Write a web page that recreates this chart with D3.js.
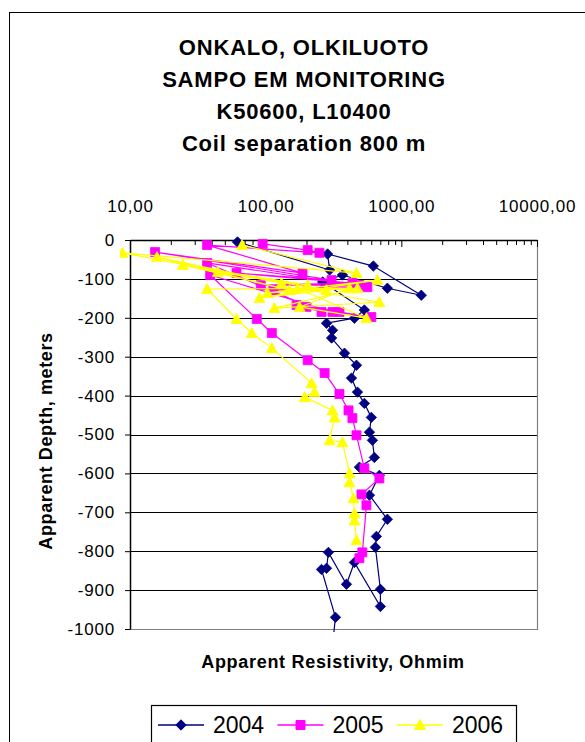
<!DOCTYPE html>
<html>
<head>
<meta charset="utf-8">
<script src="https://cdn.jsdelivr.net/npm/d3@7"></script>
<style>
  body { margin: 0; background: #fff; }
  svg { display: block; font-family: "Liberation Sans", Arial, sans-serif; }
</style>
</head>
<body>
<div id="chart"></div>
<script>
// Chart text
const titleLines = ["ONKALO, OLKILUOTO", "SAMPO EM MONITORING", "K50600, L10400", "Coil separation 800 m"];
const xTitle = "Apparent Resistivity, Ohmim";
const yTitle = "Apparent Depth, meters";

// Axis ticks
const xTickValues = [10, 100, 1000, 10000];
const xTickLabels = ["10,00", "100,00", "1000,00", "10000,00"];
const yTickValues = [0, -100, -200, -300, -400, -500, -600, -700, -800, -900, -1000];

// Series (resistivity, ohm m / apparent depth, m)
const seriesNames = ["2004", "2005", "2006"];

const res2004 = [62, 296, 286, 622, 1403, 789, 368, 263, 534, 451, 281, 311, 306, 381, 467, 429, 475, 534,
    601, 582, 612, 633, 491, 689, 582, 789, 655, 644, 701, 701, 451, 394, 290, 281, 258, 327, 310];
const depth2004 = [-5, -77, -36, -67, -142, -124, -90, -108, -180, -201, -214, -232, -252, -291, -322, -355, -391, -420,
    -456, -494, -515, -559, -584, -605, -656, -718, -762, -790, -898, -942, -829, -885, -803, -844, -847, -970, -1045];

const res2005 = [95, 204, 249, 37, 187, 15.3, 306, 61, 436, 92, 491, 114, 562, 37, 258, 169, 350, 200, 601, 311,
    39, 86, 111, 204, 272, 350, 408, 436, 467, 534, 689, 508, 553, 516, 491];
const depth2005 = [-10, -26, -33, -13, -85, -31, -103, -85, -111, -116, -116, -129, -121, -59, -185, -167, -185, -172, -198, -185,
    -90, -203, -239, -309, -342, -396, -438, -458, -502, -587, -613, -654, -682, -803, -818];

const res2006 = [67, 467, 8.8, 131, 15.8, 150, 24.5, 204, 44.4, 281, 90, 667, 103, 475, 116, 689, 172, 553, 178, 415,
    37, 61, 79, 111, 218, 229, 194, 311, 322, 296, 368, 415, 415, 444, 451, 451, 467];
const depth2006 = [-13, -85, -33, -111, -44, -129, -64, -116, -82, -129, -149, -103, -136, -124, -175, -160, -124, -201, -172, -124,
    -126, -203, -239, -278, -368, -391, -404, -438, -456, -515, -520, -600, -623, -664, -703, -721, -772];

const seriesColors = ["#000080", "#FF00FF", "#FFFF00"];
const seriesMarkers = ["diamond", "square", "triangle"];

const series = [
    { name: seriesNames[0], res: res2004, depth: depth2004 },
    { name: seriesNames[1], res: res2005, depth: depth2005 },
    { name: seriesNames[2], res: res2006, depth: depth2006 }
].map((s, i) => ({
    name: s.name,
    color: seriesColors[i],
    marker: seriesMarkers[i],
    points: s.res.map((r, j) => ({ res: r, depth: s.depth[j] }))
}));

// Layout
const width = 585, height = 742;
const plot = { left: 130, top: 240, right: 537, bottom: 629 };
const font = "'Liberation Sans', Arial, sans-serif";

const svg = d3.select("#chart")
    .append("svg")
    .attr("width", width)
    .attr("height", height);

svg.append("rect")
    .attr("width", width)
    .attr("height", height)
    .attr("fill", "#fff");

// Outer chart frame
svg.append("rect")
    .attr("x", 9.5)
    .attr("y", 12.5)
    .attr("width", 620)
    .attr("height", 800)
    .attr("fill", "none")
    .attr("stroke", "#000")
    .attr("stroke-width", 1);

// Title
svg.append("g")
    .selectAll("text")
    .data(titleLines)
    .enter()
    .append("text")
    .attr("x", 304)
    .attr("y", (d, i) => 55 + i * 32)
    .attr("text-anchor", "middle")
    .attr("font-size", "22px")
    .attr("font-weight", "bold")
    .attr("letter-spacing", "0.8px")
    .text(d => d);

// Scales
const x = d3.scaleLog()
    .domain([10, 10000])
    .range([plot.left, plot.right]);

const y = d3.scaleLinear()
    .domain([-1000, 0])
    .range([plot.bottom, plot.top]);

// Horizontal grid lines
svg.append("g")
    .selectAll("line")
    .data(yTickValues.filter(d => d < 0 && d > -1000))
    .enter()
    .append("line")
    .attr("x1", plot.left)
    .attr("x2", plot.right)
    .attr("y1", d => Math.round(y(d)) + 0.5)
    .attr("y2", d => Math.round(y(d)) + 0.5)
    .attr("stroke", "#000")
    .attr("stroke-width", 1.2);

// Plot area border (right and bottom, grey)
svg.append("path")
    .attr("d", `M${plot.right + 0.5},${plot.top}V${plot.bottom + 0.5}H${plot.left}`)
    .attr("fill", "none")
    .attr("stroke", "#808080")
    .attr("stroke-width", 1.2);

// Top axis: minor ticks
const minorTicks = x.ticks().filter(d => !xTickValues.includes(d));
svg.append("g")
    .attr("transform", `translate(0,${plot.top})`)
    .call(d3.axisTop(x).tickValues(minorTicks).tickSizeInner(-5).tickSizeOuter(0).tickFormat(""))
    .call(g => g.select(".domain").remove())
    .selectAll("line").attr("stroke", "#000");

// Top axis: major ticks and labels
const topAxis = svg.append("g")
    .attr("transform", `translate(0,${plot.top})`)
    .call(d3.axisTop(x)
        .tickValues(xTickValues)
        .tickSizeInner(-7)
        .tickSizeOuter(0)
        .tickPadding(28)
        .tickFormat((d, i) => xTickLabels[i]));
topAxis.select(".domain").attr("stroke", "#000").attr("stroke-width", 1.5);
topAxis.selectAll("line").attr("stroke", "#000");
topAxis.selectAll("text")
    .attr("font-family", font)
    .attr("font-size", "17px")
    .attr("letter-spacing", "0.8px")
    .attr("fill", "#000");

// Left axis
const leftAxis = svg.append("g")
    .attr("transform", `translate(${plot.left},0)`)
    .call(d3.axisLeft(y)
        .tickValues(yTickValues)
        .tickSize(5)
        .tickSizeOuter(0)
        .tickPadding(10)
        .tickFormat(d3.format("d")));
leftAxis.select(".domain").attr("stroke", "#000").attr("stroke-width", 1.5);
leftAxis.selectAll("line").attr("stroke", "#000");
leftAxis.selectAll("text")
    .attr("font-family", font)
    .attr("font-size", "17px")
    .attr("letter-spacing", "0.8px")
    .attr("fill", "#000")
    .text(d => d === 0 ? "0" : "-" + Math.abs(d));

// Axis titles
svg.append("text")
    .attr("x", 333)
    .attr("y", 668)
    .attr("text-anchor", "middle")
    .attr("font-size", "18px")
    .attr("font-weight", "bold")
    .attr("letter-spacing", "0.7px")
    .text(xTitle);

svg.append("text")
    .attr("transform", "translate(52,441) rotate(-90)")
    .attr("text-anchor", "middle")
    .attr("font-size", "18px")
    .attr("font-weight", "bold")
    .attr("letter-spacing", "0.6px")
    .text(yTitle);

// Marker shapes
function markerPath(type) {
    if (type === "diamond") return "M0,-5.2L5.2,0L0,5.2L-5.2,0Z";
    if (type === "square") return "M-4.5,-4.5H4.5V4.5H-4.5Z";
    return "M0,-5.5L5.5,4.5H-5.5Z";
}

const line = d3.line()
    .x(d => x(d.res))
    .y(d => y(d.depth));

// Clip series to the plot area (lines may poke slightly past the axes)
svg.append("clipPath")
    .attr("id", "plot-clip")
    .append("rect")
    .attr("x", plot.left - 10)
    .attr("y", plot.top - 8)
    .attr("width", plot.right - plot.left + 20)
    .attr("height", plot.bottom - plot.top + 11);

// Series
series.forEach(s => {
    const g = svg.append("g")
        .attr("class", "series")
        .attr("clip-path", "url(#plot-clip)");
    g.append("path")
        .datum(s.points)
        .attr("d", line)
        .attr("fill", "none")
        .attr("stroke", s.color)
        .attr("stroke-width", 1.2);
    g.selectAll(".marker")
        .data(s.points.filter(d => d.depth >= -1000))
        .enter()
        .append("path")
        .attr("class", "marker")
        .attr("transform", d => `translate(${x(d.res)},${y(d.depth)})`)
        .attr("d", markerPath(s.marker))
        .attr("fill", s.color)
        .attr("stroke", s.color)
        .attr("stroke-width", 0.8);
});

// Legend
const legend = svg.append("g").attr("class", "legend");
legend.append("rect")
    .attr("x", 151.5)
    .attr("y", 705.5)
    .attr("width", 365)
    .attr("height", 60)
    .attr("fill", "#fff")
    .attr("stroke", "#000")
    .attr("stroke-width", 1.2);

const item = legend.selectAll(".item")
    .data(series)
    .enter()
    .append("g")
    .attr("class", "item")
    .attr("transform", (d, i) => `translate(${158 + i * 119.5},725)`);

item.append("line")
    .attr("x1", 0)
    .attr("x2", 46)
    .attr("stroke", d => d.color)
    .attr("stroke-width", 1.5);

item.append("path")
    .attr("transform", "translate(23,0)")
    .attr("d", d => markerPath(d.marker))
    .attr("fill", d => d.color)
    .attr("stroke", d => d.color);

item.append("text")
    .attr("x", 55)
    .attr("y", 8)
    .attr("font-size", "23px")
    .text(d => d.name);
</script>
</body>
</html>
